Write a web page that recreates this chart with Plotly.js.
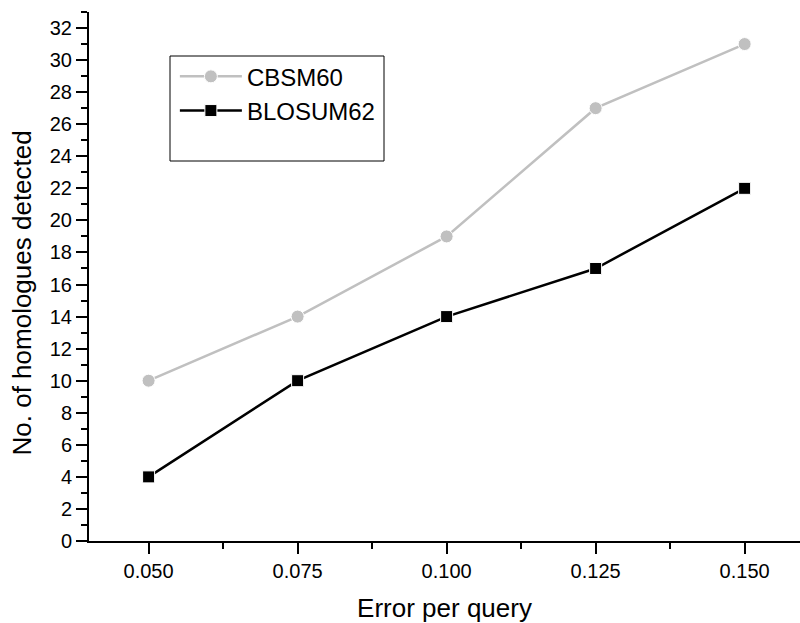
<!DOCTYPE html>
<html>
<head>
<meta charset="utf-8">
<script src="https://cdn.plot.ly/plotly-3.0.1.min.js"></script>
<style>
html,body{margin:0;padding:0;background:#fff;overflow:hidden;}
#chart{width:800px;height:623px;}
</style>
</head>
<body>
<div id="chart"></div>
<script>
const errorPerQuery = [0.050, 0.075, 0.100, 0.125, 0.150];
const cbsm60 = [10, 14, 19, 27, 31];
const blosum62 = [4, 10, 14, 17, 22];
const seriesNames = ["CBSM60", "BLOSUM62"];
const xTitle = "Error per query";
const yTitle = "No. of homologues detected";

const FONT = '"Liberation Sans", Arial, Helvetica, sans-serif';

const traces = [
  {
    x: errorPerQuery, y: cbsm60, name: seriesNames[0],
    type: 'scatter', mode: 'lines+markers',
    line: {color: '#c0c0c0', width: 2.5},
    marker: {symbol: 'circle', size: 13, color: '#c0c0c0', line: {color: '#ffffff', width: 1}}
  },
  {
    x: errorPerQuery, y: blosum62, name: seriesNames[1],
    type: 'scatter', mode: 'lines+markers',
    line: {color: '#000000', width: 2.5},
    marker: {symbol: 'square', size: 12, color: '#000000', line: {color: '#ffffff', width: 1}}
  }
];

const layout = {
  width: 800, height: 623,
  margin: {l: 89, r: 0, t: 12, b: 82, pad: 0},
  paper_bgcolor: '#ffffff', plot_bgcolor: '#ffffff',
  font: {family: FONT, color: '#000000', size: 20},
  showlegend: true,
  xaxis: {
    range: [0.04, 0.15929], autorange: false,
    tickmode: 'linear', tick0: 0.05, dtick: 0.025, tickformat: '.3f',
    showline: true, linecolor: '#000', linewidth: 2,
    ticks: 'outside', ticklen: 11, tickwidth: 2, tickcolor: '#000',
    minor: {ticks: 'outside', ticklen: 6, tickwidth: 2, tickcolor: '#000', dtick: 0.0125, tick0: 0.05, showgrid: false},
    showgrid: false, zeroline: false,
    tickfont: {family: FONT, size: 20, color: '#000'},
    title: {text: xTitle, font: {family: FONT, size: 26, color: '#000'}, standoff: 18}
  },
  yaxis: {
    range: [0, 33], autorange: false,
    tickmode: 'linear', tick0: 0, dtick: 2,
    showline: true, linecolor: '#000', linewidth: 2,
    ticks: 'outside', ticklen: 11, tickwidth: 2, tickcolor: '#000',
    minor: {ticks: 'outside', ticklen: 6, tickwidth: 2, tickcolor: '#000', dtick: 1, tick0: 0, showgrid: false},
    showgrid: false, zeroline: false,
    tickfont: {family: FONT, size: 20, color: '#000'}
  },
  annotations: [
    {text: yTitle, xref: 'paper', yref: 'paper', x: 0, y: (541-293.5)/529,
     xanchor: 'center', yanchor: 'middle', xshift: -68, textangle: -90, showarrow: false,
     font: {family: FONT, size: 26, color: '#000'}}
  ],
  legend: {
    x: 0.125 - 3/711, y: 0.905 + 8/529, xanchor: 'left', yanchor: 'top',
    bgcolor: 'rgba(0,0,0,0)', borderwidth: 0,
    font: {family: FONT, size: 24, color: '#000'},
    itemwidth: 62, tracegroupgap: 0
  },
  shapes: [
    {type: 'rect', xref: 'paper', yref: 'paper',
     x0: (170-89)/711, x1: (384-89)/711, y0: (541-161)/529, y1: (541-56)/529,
     line: {color: '#000', width: 1}, fillcolor: 'rgba(0,0,0,0)'}
  ]
};

Plotly.newPlot('chart', traces, layout, {displayModeBar: false, staticPlot: true});
</script>
</body>
</html>
